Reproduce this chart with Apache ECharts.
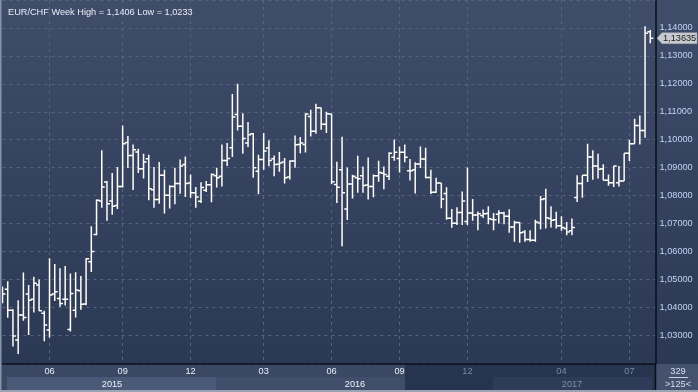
<!DOCTYPE html>
<html><head><meta charset="utf-8">
<script src="https://cdn.jsdelivr.net/npm/echarts@6/dist/echarts.min.js"></script>
<style>html,body{margin:0;padding:0;background:#34415e;overflow:hidden}#c{width:698px;height:392px}</style>
</head><body><div id="c"></div>
<script>
// ---- data (weekly EUR/CHF bars) ----
const titleText = 'EUR/CHF Week High = 1,1406 Low = 1,0233';
const opens = [1.0440,1.0465,1.0390,1.0283,1.0373,1.0448,1.0429,1.0480,1.0379,1.0319,
1.0448,1.0432,1.0429,1.0321,1.0390,1.0460,1.0412,1.0563,1.0661,1.0781,
1.0849,1.0781,1.0765,1.0833,1.0990,1.0944,1.0956,1.0896,1.0932,1.0821,
1.0786,1.0873,1.0801,1.0833,1.0843,1.0911,1.0845,1.0810,1.0780,1.0819,
1.0839,1.0871,1.0869,1.0926,1.0971,1.1090,1.1048,1.0988,1.1021,1.0887,
1.0929,1.0970,1.0932,1.0912,1.0920,1.0867,1.0924,1.0983,1.0983,1.1083,
1.1030,1.1114,1.1055,1.1092,1.0840,1.0893,1.0752,1.0842,1.0864,1.0871,
1.0838,1.0833,1.0871,1.0880,1.0869,1.0937,1.0933,1.0955,1.0889,1.0893,
1.0913,1.0931,1.0865,1.0812,1.0845,1.0808,1.0719,1.0701,1.0740,1.0707,
1.0738,1.0731,1.0729,1.0736,1.0715,1.0733,1.0738,1.0726,1.0688,1.0704,
1.0670,1.0643,1.0640,1.0702,1.0789,1.0718,1.0714,1.0692,1.0682,1.0674,
1.0793,1.0843,1.0873,1.0938,1.0906,1.0896,1.0855,1.0846,1.0846,1.0852,
1.0952,1.0986,1.1051,1.1033,1.1386];
const highs = [1.0475,1.0494,1.0393,1.0426,1.0525,1.0480,1.0510,1.0500,1.0388,1.0576,
1.0555,1.0540,1.0548,1.0521,1.0526,1.0512,1.0576,1.0690,1.0786,1.0962,
1.0852,1.0881,1.0902,1.1051,1.1013,1.0983,1.0968,1.0950,1.0946,1.0902,
1.0920,1.0893,1.0837,1.0900,1.0929,1.0940,1.0876,1.0831,1.0848,1.0852,
1.0879,1.0900,1.0983,1.0988,1.1164,1.1200,1.1095,1.1063,1.1024,1.0946,
1.1024,1.0998,1.0944,1.0956,1.0935,1.0926,1.1015,1.1010,1.1095,1.1107,
1.1129,1.1114,1.1100,1.1092,1.0921,1.1011,1.0901,1.0875,1.0943,1.0904,
1.0936,1.0876,1.0925,1.0904,1.0955,1.1001,1.0976,1.0983,1.0931,1.0919,
1.0976,1.0971,1.0893,1.0864,1.0845,1.0830,1.0752,1.0758,1.0815,1.0901,
1.0788,1.0743,1.0750,1.0762,1.0738,1.0748,1.0742,1.0751,1.0710,1.0706,
1.0676,1.0676,1.0714,1.0799,1.0825,1.0762,1.0742,1.0726,1.0706,1.0718,
1.0873,1.0873,1.0986,1.0962,1.0950,1.0912,1.0876,1.0906,1.0906,1.0952,
1.1000,1.1075,1.1087,1.1406,1.1393];
const lows = [1.0415,1.0363,1.0260,1.0233,1.0352,1.0301,1.0382,1.0387,1.0279,1.0292,
1.0423,1.0402,1.0407,1.0314,1.0364,1.0392,1.0408,1.0527,1.0658,1.0757,
1.0710,1.0732,1.0752,1.0829,1.0899,1.0820,1.0881,1.0861,1.0783,1.0757,
1.0771,1.0736,1.0754,1.0769,1.0807,1.0795,1.0792,1.0757,1.0774,1.0813,
1.0776,1.0829,1.0833,1.0906,1.0938,1.1033,1.0950,1.0974,1.0864,1.0805,
1.0893,1.0905,1.0869,1.0885,1.0843,1.0858,1.0900,1.0952,1.0954,1.1012,
1.1021,1.1036,1.1024,1.0842,1.0774,1.0619,1.0713,1.0790,1.0810,1.0810,
1.0786,1.0794,1.0850,1.0823,1.0856,1.0925,1.0883,1.0919,1.0854,1.0808,
1.0899,1.0862,1.0806,1.0810,1.0755,1.0714,1.0685,1.0695,1.0695,1.0695,
1.0710,1.0676,1.0720,1.0698,1.0676,1.0700,1.0698,1.0667,1.0635,1.0631,
1.0635,1.0635,1.0635,1.0680,1.0682,1.0686,1.0682,1.0674,1.0658,1.0658,
1.0777,1.0792,1.0849,1.0857,1.0861,1.0855,1.0835,1.0831,1.0833,1.0852,
1.0924,1.0986,1.0983,1.1007,1.1345];
const closes = [1.0448,1.0390,1.0298,1.0373,1.0364,1.0426,1.0486,1.0388,1.0337,1.0444,
1.0456,1.0414,1.0429,1.0450,1.0462,1.0411,1.0574,1.0600,1.0783,1.0831,
1.0771,1.0762,1.0833,1.0986,1.0944,1.0964,1.0896,1.0920,1.0825,1.0786,
1.0873,1.0801,1.0833,1.0843,1.0906,1.0843,1.0810,1.0795,1.0829,1.0839,
1.0876,1.0864,1.0926,1.0933,1.1081,1.1048,1.1004,1.1018,1.0900,1.0929,
1.0960,1.0926,1.0911,1.0917,1.0864,1.0924,1.0982,1.0988,1.1092,1.1030,
1.1114,1.1055,1.1093,1.0850,1.0830,1.0810,1.0842,1.0869,1.0860,1.0836,
1.0833,1.0871,1.0883,1.0876,1.0952,1.0955,1.0955,1.0937,1.0889,1.0913,
1.0931,1.0865,1.0812,1.0845,1.0788,1.0719,1.0701,1.0740,1.0781,1.0738,
1.0731,1.0735,1.0735,1.0717,1.0714,1.0738,1.0726,1.0688,1.0704,1.0667,
1.0643,1.0640,1.0706,1.0786,1.0721,1.0712,1.0692,1.0686,1.0670,1.0686,
1.0843,1.0873,1.0938,1.0906,1.0894,1.0855,1.0846,1.0906,1.0852,1.0952,
1.0986,1.1051,1.1033,1.1381,1.13635];
const lastPriceLabel = '1,13635';
const monthTickIndex = [9, 23, 36, 50, 63, 76, 89, 107, 120];
const monthTickLabels = ['06','09','12','03','06','09','12','04','07'];
const yearLabels = ['2015','2016','2017'];
const barCountLabel = '329';
const visibleLabel = '>125<';

// categories: one per week (+1 empty slot at the right edge)
const categories = [];
{
  const d0 = new Date(Date.UTC(2015, 2, 30));
  for (let i = 0; i < opens.length + 1; i++) {
    const d = new Date(d0.getTime() + i * 7 * 864e5);
    categories.push(d.toISOString().slice(0, 10));
  }
}

const FONT = '"Liberation Sans", Arial, sans-serif';
const FS = 9.2;
const labelMap = {};
monthTickIndex.forEach((idx, k) => { labelMap[idx] = monthTickLabels[k]; });
const seriesData = opens.map((o, i) => [i, o, highs[i], lows[i], closes[i]]);

const chart = echarts.init(document.getElementById('c'), null, {renderer: 'canvas'});
const grid = {left: 2.5, top: -0.7, width: 653, height: 364};
const option = {
  animation: false,
  backgroundColor: {type: 'linear', x: 0, y: 0, x2: 0, y2: 1,
    colorStops: [{offset: 0, color: '#3f4c6a'}, {offset: 0.92, color: '#2c3955'}, {offset: 1, color: '#2c3955'}]},
  title: {text: titleText, left: 3, top: 3,
    textStyle: {color: '#e9edf5', fontSize: FS, fontWeight: 'normal', fontFamily: FONT}},
  grid: grid,
  xAxis: {
    type: 'category', data: categories, boundaryGap: false,
    axisLine: {show: true, lineStyle: {color: '#0a0e16', width: 1.5}},
    axisTick: {show: false},
    axisLabel: {
      interval: (i) => monthTickIndex.indexOf(i) >= 0,
      formatter: (v, i) => {
        const idx = categories.indexOf(v);
        const t = labelMap[idx] || '';
        return idx >= 89 ? '{g|' + t + '}' : '{w|' + t + '}';
      },
      margin: 4,
      rich: {
        w: {color: '#e8eef8', fontSize: FS, fontFamily: FONT},
        g: {color: '#7d8aa3', fontSize: FS, fontFamily: FONT}
      }
    },
    splitLine: {show: true, interval: (i) => monthTickIndex.indexOf(i) >= 0,
      lineStyle: {color: '#56647f', type: [3, 4], width: 1}}
  },
  yAxis: {
    type: 'value', position: 'right', min: 1.02, max: 1.15, interval: 0.01,
    axisLine: {show: true, lineStyle: {color: '#0a0e16', width: 1.5}},
    axisTick: {show: false},
    axisLabel: {
      formatter: (v) => (v < 1.025 || v > 1.145) ? '' : v.toFixed(5).replace('.', ','),
      color: '#c2d4f2', fontSize: FS, fontFamily: FONT, margin: 4
    },
    splitLine: {show: true, lineStyle: {color: '#56647f', type: [3, 4], width: 1}}
  },
  series: [{
    type: 'custom', clip: true,
    data: seriesData,
    encode: {x: 0, y: [1, 2, 3, 4]},
    renderItem: function (params, api) {
      const i = api.value(0);
      const pH = api.coord([i, api.value(2)]);
      const pL = api.coord([i, api.value(3)]);
      const pO = api.coord([i, api.value(1)]);
      const pC = api.coord([i, api.value(4)]);
      const x = pH[0];
      const st = {stroke: '#fffdf7', lineWidth: 1.5};
      return {type: 'group', children: [
        {type: 'line', shape: {x1: x, y1: pH[1], x2: x, y2: pL[1]}, style: st},
        {type: 'line', shape: {x1: x - 3, y1: pO[1], x2: x, y2: pO[1]}, style: st},
        {type: 'line', shape: {x1: x, y1: pC[1], x2: x + 3, y2: pC[1]}, style: st}
      ]};
    }
  }]
};
chart.setOption(option);

const yPx = chart.convertToPixel({yAxisIndex: 0}, closes[closes.length - 1]);
const txt = (t, x, y, color, align) => ({type: 'text', z: 10, x: x, y: y,
  style: {text: t, fill: color, font: FS + 'px ' + FONT, textAlign: align || 'center', textVerticalAlign: 'middle'}});
chart.setOption({graphic: [
  // x axis strip backgrounds
  {type: 'rect', z: -5, shape: {x: 0, y: 364, width: 655.5, height: 28}, style: {fill: '#3b4864'}},
  {type: 'rect', z: -5, shape: {x: 7, y: 377, width: 209, height: 13}, style: {fill: '#4b5978'}},
  {type: 'rect', z: -5, shape: {x: 216, y: 377, width: 189, height: 13}, style: {fill: '#414e6b'}},
  {type: 'rect', z: -5, shape: {x: 405, y: 364, width: 250.5, height: 28}, style: {fill: '#27344f'}},
  {type: 'rect', z: -5, shape: {x: 493, y: 377, width: 159, height: 13}, style: {fill: '#2e3c59'}},
  // right-bottom box
  {type: 'rect', z: -5, shape: {x: 656, y: 364, width: 42, height: 28}, style: {fill: '#45526e'}},
  txt(yearLabels[0], 112, 384, '#eef2f8'),
  txt(yearLabels[1], 355, 384, '#eef2f8'),
  txt(yearLabels[2], 572, 384, '#8090a8'),
  txt(barCountLabel, 678, 371, '#d6deec'),
  {type: 'line', z: 10, shape: {x1: 669, y1: 377.5, x2: 688, y2: 377.5}, style: {stroke: '#c9d2e2', lineWidth: 1}},
  txt(visibleLabel, 678, 384.5, '#d6deec'),
  // axis separator through strip
  {type: 'line', z: 10, shape: {x1: 655.5, y1: 363, x2: 655.5, y2: 392}, style: {stroke: '#0a0e16', lineWidth: 1.5}},
  // frame
  {type: 'rect', z: 10, shape: {x: 0, y: 0, width: 1.5, height: 392}, style: {fill: '#8593ad'}},
  {type: 'rect', z: 10, shape: {x: 0, y: 390, width: 698, height: 2}, style: {fill: '#9aa3b4'}},
  // last price marker
  {type: 'polygon', z: 10, shape: {points: [[657, yPx], [662, yPx - 5.5], [697, yPx - 5.5], [697, yPx + 5.5], [662, yPx + 5.5]]},
    style: {fill: '#c7cad0', stroke: '#9ea3ad', lineWidth: 0.5}},
  txt(lastPriceLabel, 663, yPx, '#1c1c1c', 'left')
]});
</script></body></html>
